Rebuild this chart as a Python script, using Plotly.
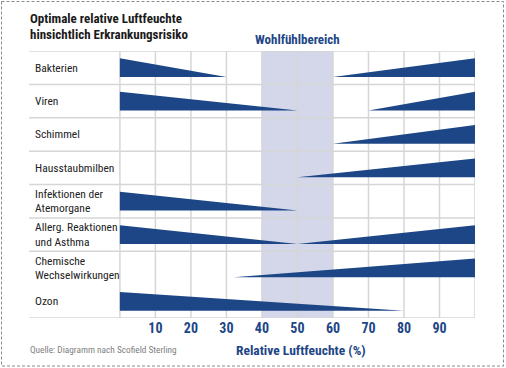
import plotly.graph_objects as go

# ---------------- data ----------------
categories = [
    "Bakterien",
    "Viren",
    "Schimmel",
    "Hausstaubmilben",
    "Infektionen der<br>Atemorgane",
    "Allerg. Reaktionen<br>und Asthma",
    "Chemische<br>Wechselwirkungen",
    "Ozon",
]
# risk decreasing from 0 % humidity down to this value (None = none)
low_risk_end = [30, 50, None, None, 50, 50, None, 80]
# risk increasing from this value up to 100 % humidity (None = none)
high_risk_start = [60, 70, 60, 50, None, 50, 32, None]
x_ticks = [10, 20, 30, 40, 50, 60, 70, 80, 90]
comfort_zone = [40, 60]
x_max = 100
title_lines = ["Optimale relative Luftfeuchte", "hinsichtlich Erkrankungsrisiko"]

# ---------------- style ----------------
W, H = 506, 368
ML, MR, MT, MB = 29, 31, 51, 50
X_MIN = -25.6
BLUE = "#1d4686"
BAND = "#d3d7e9"
GRID = "#d6d6d6"
FONT = "Liberation Sans Narrow, Roboto Condensed, Roboto, sans-serif"
WEDGE_TOP, WEDGE_BOT = 0.22, 0.78
n_rows = len(categories)
ROW_PX = (H - MT - MB) / n_rows
LINE_PX = 14.3


def px_x(p):
    return (p - ML) / (W - ML - MR)


def px_y(p):
    return (H - MB - p) / (H - MT - MB)


fig = go.Figure()

for i, (lo, hi) in enumerate(zip(low_risk_end, high_risk_start)):
    top, bot = i + WEDGE_TOP, i + WEDGE_BOT
    if lo is not None:
        fig.add_trace(go.Scatter(
            x=[0, 0, lo, 0], y=[top, bot, bot, top], mode="lines",
            fill="toself", fillcolor=BLUE, line=dict(width=0, color=BLUE),
            hoverinfo="skip", showlegend=False))
    if hi is not None:
        fig.add_trace(go.Scatter(
            x=[hi, x_max, x_max, hi], y=[bot, bot, top, bot], mode="lines",
            fill="toself", fillcolor=BLUE, line=dict(width=0, color=BLUE),
            hoverinfo="skip", showlegend=False))

shapes = []
# comfort band
shapes.append(dict(type="rect", xref="x", yref="y", x0=comfort_zone[0], x1=comfort_zone[1],
                   y0=0, y1=n_rows, fillcolor=BAND, line=dict(width=0), layer="below"))
# vertical grid
for v in range(0, x_max + 1, 10):
    shapes.append(dict(type="line", xref="x", yref="y", x0=v, x1=v, y0=0, y1=n_rows,
                       line=dict(color=GRID, width=1.5), layer="below"))
# horizontal row separators (none between the last two rows in the original)
for r in list(range(0, n_rows - 1)) + [n_rows]:
    shapes.append(dict(type="line", xref="x", yref="y", x0=X_MIN, x1=x_max, y0=r, y1=r,
                       line=dict(color=GRID, width=1.5), layer="below"))
# dashed frame
shapes.append(dict(type="rect", xref="paper", yref="paper",
                   x0=px_x(1.5), x1=px_x(503.5), y0=px_y(1.5), y1=px_y(366),
                   line=dict(color="#8a8a8a", width=1, dash="3px,2px"), layer="above"))

annotations = []
for i, cat in enumerate(categories):
    lines = cat.split("<br>")
    n = len(lines)
    for k, ln in enumerate(lines):
        off = (k - (n - 1) / 2) * LINE_PX / ROW_PX
        annotations.append(dict(xref="x", yref="y", x=X_MIN + 1.2, y=i + 0.5 + off, text=ln,
                                xanchor="left", yanchor="middle", align="left", showarrow=False,
                                font=dict(family=FONT, size=11.5, color="#222222")))
for k, ln in enumerate(title_lines):
    annotations.append(dict(xref="paper", yref="paper", x=px_x(27.5), y=px_y(18.5 + 15.5 * k),
                            text="<b>" + ln + "</b>",
                            xanchor="left", yanchor="middle", align="left", showarrow=False,
                            font=dict(family=FONT, size=13, color="#1a1a1a")))
annotations.append(dict(xref="x", yref="paper", x=sum(comfort_zone) / 2, y=px_y(40),
                        text="<b>Wohlfühlbereich</b>", xanchor="center", yanchor="middle",
                        showarrow=False, font=dict(family=FONT, size=13, color=BLUE)))
annotations.append(dict(xref="paper", yref="paper", x=px_x(301), y=px_y(350),
                        text="<b>Relative Luftfeuchte (%)</b>", xanchor="center", yanchor="middle",
                        showarrow=False, font=dict(family=FONT, size=13.5, color=BLUE)))
annotations.append(dict(xref="paper", yref="paper", x=px_x(28), y=px_y(349),
                        text="Quelle: Diagramm nach Scofield Sterling", xanchor="left",
                        yanchor="middle", showarrow=False,
                        font=dict(family=FONT, size=9.3, color="#808080")))

fig.update_layout(
    width=W, height=H,
    margin=dict(l=ML, r=MR, t=MT, b=MB),
    paper_bgcolor="white", plot_bgcolor="white",
    xaxis=dict(range=[X_MIN, x_max], tickvals=x_ticks, ticktext=[str(t) for t in x_ticks],
               showgrid=False, zeroline=False, showline=False, ticks="",
               tickfont=dict(family=FONT, size=14, color=BLUE, weight="bold")),
    yaxis=dict(range=[n_rows, 0], showgrid=False, zeroline=False, showline=False,
               showticklabels=False, ticks=""),
    shapes=shapes,
    annotations=annotations,
)

fig.write_html("out.html", config={"displayModeBar": False},
               post_script="document.body.style.margin='0';document.body.style.overflow='hidden';")
